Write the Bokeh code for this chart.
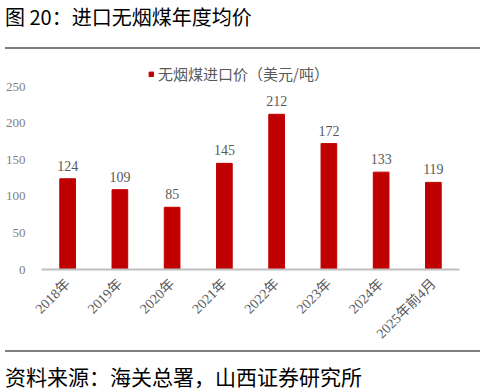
from bokeh.plotting import figure
from bokeh.models import (ColumnDataSource, FactorRange, Range1d, FixedTicker,
                          LabelSet, Legend, LegendItem, Div)
from bokeh.layouts import column
from bokeh.embed import file_html
from bokeh.resources import INLINE
import math

categories = ["2018年", "2019年", "2020年", "2021年", "2022年", "2023年", "2024年", "2025年前4月"]
prices = [124, 109, 85, 145, 212, 172, 133, 119]
y_ticks = [0, 50, 100, 150, 200, 250]
series_name = "无烟煤进口价（美元/吨）"
title_text = "图 20：进口无烟煤年度均价"
source_text = "资料来源：海关总署，山西证券研究所"

SERIF = "'Liberation Serif', 'Noto Sans CJK SC'"
CJK = "'Noto Sans CJK SC'"

src = ColumnDataSource(dict(cat=categories, val=prices, lab=[str(v) for v in prices]))

p = figure(width=485, height=301, x_range=FactorRange(*categories, range_padding=0),
           y_range=Range1d(0, 286.9), output_backend="svg", toolbar_location=None,
           min_border_left=41, min_border_right=26, min_border_top=10, min_border_bottom=81)
p.outline_line_color = None
p.background_fill_color = "white"
p.border_fill_color = "white"
p.xgrid.grid_line_color = None
p.ygrid.grid_line_color = None

r = p.vbar(x="cat", top="val", width=0.3, source=src, fill_color="#C00000", line_color="#C00000")

p.yaxis.ticker = FixedTicker(ticks=y_ticks)
p.yaxis.axis_line_color = None
p.yaxis.major_tick_line_color = None
p.yaxis.minor_tick_line_color = None
p.yaxis.major_label_text_font = SERIF
p.yaxis.major_label_text_font_size = "13px"
p.yaxis.major_label_text_color = "#808080"
p.yaxis.major_label_standoff = 10

p.xaxis.axis_line_color = "#BFBFBF"
p.xaxis.axis_line_width = 2
p.xaxis.major_tick_line_color = None
p.xaxis.minor_tick_line_color = None
p.xaxis.major_label_orientation = math.pi / 4
p.xaxis.major_label_text_font = SERIF
p.xaxis.major_label_text_font_size = "14px"
p.xaxis.major_label_text_color = "#595959"
p.xaxis.major_label_standoff = 6

labels = LabelSet(x="cat", y="val", text="lab", source=src, y_offset=13,
                  text_align="center", text_baseline="middle",
                  text_font=SERIF, text_font_size="14px", text_color="#595959")
p.add_layout(labels)

legend = Legend(items=[LegendItem(label=series_name, renderers=[r])],
                location=(107, 185), orientation="horizontal",
                glyph_width=6, glyph_height=6, label_standoff=4,
                label_text_font=CJK, label_text_font_size="15px", label_text_color="#595959",
                label_height=14, padding=0, margin=0, spacing=0,
                border_line_color=None, background_fill_alpha=0)
p.add_layout(legend)

top_div = Div(text=title_text, width=475, height=49, margin=(0, 5, 0, 5),
              styles={"font-family": CJK, "font-size": "20px", "line-height": "24px",
                      "color": "#000000", "box-sizing": "border-box",
                      "border-bottom": "2px solid #7f7f7f", "padding-top": "5px",
                      "width": "475px", "height": "49px", "white-space": "nowrap"})
bot_div = Div(text=source_text, width=475, height=40, margin=(0, 5, 0, 5),
              styles={"font-family": CJK, "font-size": "21px", "line-height": "24px",
                      "color": "#000000", "box-sizing": "border-box",
                      "border-top": "2px solid #7f7f7f", "padding-top": "12px",
                      "width": "475px", "height": "40px", "white-space": "nowrap"})

layout = column(top_div, p, bot_div, spacing=0)
open("out.html", "w").write(file_html(layout, INLINE))
